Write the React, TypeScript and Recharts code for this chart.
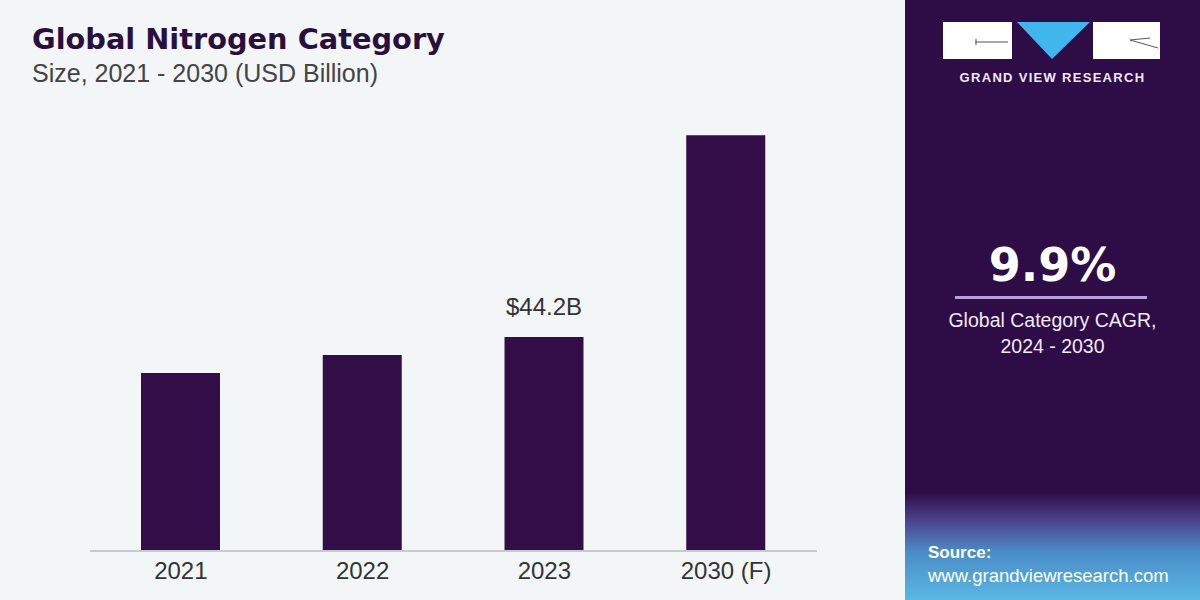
import React from "react";
import { BarChart, Bar, XAxis, YAxis, LabelList } from "recharts";

const categories = ["2021", "2022", "2023", "2030 (F)"];
const values = [36.8, 40.5, 44.2, 85.9];
const barLabels = ["", "", "$44.2B", ""];

const data = categories.map((c, i) => ({ year: c, value: values[i], label: barLabels[i] }));

const PURPLE = "#2e0c45";
const BAR = "#320d48";

export default function App() {
  return (
    <div style={{ position: "absolute", left: 0, top: 0, width: 1200, height: 600, overflow: "hidden", background: "#f2f6f7", fontFamily: "'Liberation Sans', Arial, sans-serif" }}>
      <div style={{ position: "absolute", left: 32, top: 22, fontFamily: "'DejaVu Sans', sans-serif", fontWeight: 700, fontSize: 28.8, color: "#2a0f3e", whiteSpace: "nowrap" }}>
        Global Nitrogen Category
      </div>
      <div style={{ position: "absolute", left: 32, top: 59, fontSize: 25, color: "#444", whiteSpace: "nowrap" }}>
        Size, 2021 - 2030 (USD Billion)
      </div>
      <div style={{ position: "absolute", left: 0, top: 0 }}>
        <BarChart width={905} height={600} data={data} margin={{ top: 67, bottom: 0, left: 90, right: 88 }} barCategoryGap="0%">
          <XAxis
            dataKey="year"
            axisLine={{ stroke: "#c5cccd", strokeWidth: 2 }}
            tickLine={false}
            tick={{ fill: "#333", fontSize: 24, fontFamily: "'Liberation Sans', Arial, sans-serif" }}
            tickMargin={5}
            height={49}
          />
          <YAxis hide domain={[0, 100]} width={0} />
          <Bar dataKey="value" fill={BAR} barSize={79} isAnimationActive={false}>
            <LabelList dataKey="label" position="top" offset={22} fill="#333" fontSize={24} fontFamily="'Liberation Sans', Arial, sans-serif" />
          </Bar>
        </BarChart>
      </div>
      {/* right panel */}
      <div style={{ position: "absolute", left: 905, top: 0, width: 295, height: 600, background: `linear-gradient(to bottom, ${PURPLE} 0%, ${PURPLE} 82%, #4d4690 87%, #4a8cc8 92%, #5ab8e4 100%)` }}>
        <svg width={295} height={110} style={{ position: "absolute", left: 0, top: 0 }}>
          <rect x={38} y={22} width={69} height={37} fill="#ffffff" />
          <line x1={70} y1={42} x2={103} y2={42} stroke="#555" strokeWidth={1} />
          <line x1={71} y1={39} x2={71} y2={45} stroke="#555" strokeWidth={1} />
          <polygon points="112,22 185,22 147,59" fill="#3fb6ec" />
          <rect x={188} y={22} width={67} height={37} fill="#ffffff" />
          <line x1={225} y1={40} x2={253} y2={48} stroke="#555" strokeWidth={1} />
          <line x1={225} y1={40} x2={245} y2={38} stroke="#555" strokeWidth={1} />
        </svg>
        <div style={{ position: "absolute", left: 40, width: 215, top: 70, textAlign: "center", color: "#f0e8f5", fontWeight: 700, fontSize: 13, letterSpacing: 1.3, whiteSpace: "nowrap" }}>
          GRAND VIEW RESEARCH
        </div>
        <div style={{ position: "absolute", left: 0, width: 295, top: 238, textAlign: "center", color: "#ffffff", fontFamily: "'DejaVu Sans', sans-serif", fontWeight: 700, fontSize: 46, lineHeight: "54px" }}>
          9.9%
        </div>
        <div style={{ position: "absolute", left: 50, width: 192, top: 296, height: 3, background: "#b79fdc" }} />
        <div style={{ position: "absolute", left: 0, width: 295, top: 307, textAlign: "center", color: "#f2eaf8", fontSize: 19.5, lineHeight: "26px" }}>
          Global Category CAGR,<br />2024 - 2030
        </div>
        <div style={{ position: "absolute", left: 23, top: 543, color: "#ffffff", fontWeight: 700, fontSize: 17 }}>Source:</div>
        <div style={{ position: "absolute", left: 23, top: 565, color: "#ffffff", fontSize: 18.5, whiteSpace: "nowrap" }}>www.grandviewresearch.com</div>
      </div>
    </div>
  );
}
